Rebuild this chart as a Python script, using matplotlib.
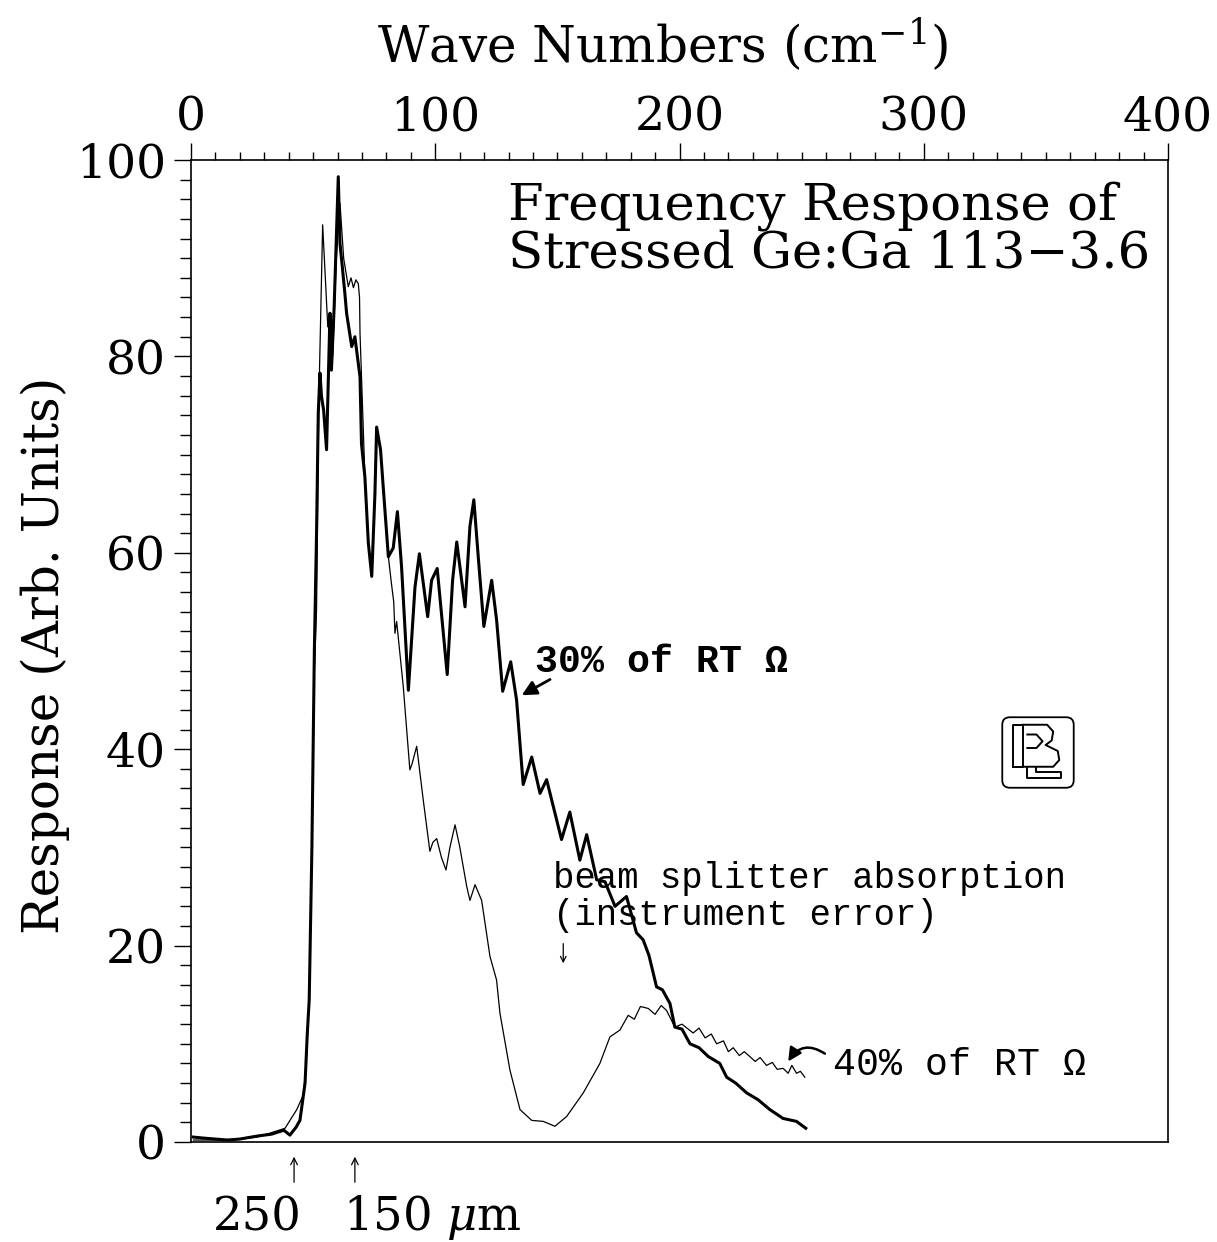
import numpy as np
import matplotlib
matplotlib.use('Agg')
import matplotlib.pyplot as plt
from matplotlib.patches import FancyBboxPatch

plt.rcParams['font.family'] = ['DejaVu Serif']
plt.rcParams['mathtext.fontset'] = 'dejavuserif'
MONO = ['Liberation Mono', 'DejaVu Sans Mono']

# 30% of RT resistance (thick curve)
wn_30 = [1, 5, 10, 15, 20, 27, 33, 38, 40.5, 43, 44.6, 46.7, 47.6, 48.4, 49.5, 50.5,
         51.4, 52.1, 52.8, 53.4, 54.3, 55.5, 56.9, 57.5, 58.6, 60.3, 61.0, 62.0, 63.0,
         63.7, 65.8, 67.1, 69.2, 69.8, 71.2, 72.6, 74.0, 75.3, 76.0, 77.6, 78.7, 80.8,
         82.8, 84.5, 86.2, 89.0, 91.7, 93.5, 96.9, 98.5, 100.8, 104.9, 107.1, 108.8,
         112.2, 114.2, 115.8, 117.6, 119.9, 123.1, 125.1, 127.6, 130.9, 133.3, 136.0,
         139.5, 142.9, 145.6, 151.7, 155.1, 159.2, 162.0, 166.1, 169.5, 173.6, 178.3,
         182.4, 185.1, 187.5, 190.6, 193.0, 196.1, 198.1, 201.0, 204.3, 208.0, 211.8,
         216.5, 219.3, 223.0, 227.5, 232.2, 237.0, 242.4, 247.9, 251.7]
resp_30 = [0.5, 0.4, 0.3, 0.2, 0.3, 0.6, 0.8, 1.2, 0.7, 1.5, 2.2, 6.0, 11.0, 14.5, 30, 50,
           62, 74.2, 78.3, 76.0, 74.5, 70.5, 84.4, 78.6, 85.0, 98.3, 91.5, 89.0, 86.4,
           84.4, 81.0, 82.0, 77.9, 71.1, 67.7, 61.0, 57.6, 66.0, 72.8, 70.5, 66.7, 59.6,
           60.5, 64.2, 58.6, 46.0, 56.5, 59.9, 53.5, 57.2, 58.4, 47.6, 57.2, 61.1,
           54.5, 62.7, 65.4, 59.6, 52.5, 57.2, 53.2, 45.9, 48.9, 45.0, 36.4,
           39.2, 35.5, 36.9, 30.8, 33.6, 28.7, 31.3, 26.7, 26.5, 24.0, 25.0,
           21.3, 20.6, 19.0, 15.8, 15.5, 14.1, 11.7, 11.5, 10.0, 9.6, 8.7,
           8.0, 6.6, 6.0, 5.0, 4.3, 3.3, 2.4, 2.1, 1.4]

# 40% of RT resistance (thin curve)
wn_40 = [1, 10, 20, 27, 32.3, 38.5, 43.3, 46.0, 47.1, 48.4, 49.5, 50.5, 51.4, 52.3,
         53.9, 55.0, 56.0, 56.9, 58.0, 59.5, 61.0, 62.5, 64.4, 65.5, 66.5, 67.5, 68.5,
         69.0, 69.2, 69.8, 71.2, 72.6, 74.0, 75.3, 76.0, 77.6, 78.7, 80.8, 82.0, 83.0,
         83.5, 84.2, 86.9, 89.6, 90.5, 92.4, 95.1, 97.8, 99.0, 100.6, 102.5, 104.4,
         106.0, 108.1, 110.0, 112.9, 114.2, 116.3, 119.0, 122.4, 125.1, 126.5, 130.6,
         134.7, 139.5, 144.2, 149.0, 153.8, 160.6, 167.4, 171.5, 175.6, 179.0, 181.5,
         184.0, 187.2, 190.0, 192.5, 194.7, 198.1, 201.0, 205.6, 208.0, 210.5, 213.0,
         215.2, 218.0, 220.0, 222.0, 224.5, 226.5, 228.8, 231.0, 233.0, 235.6, 238.0,
         240.0, 242.4, 244.5, 246.0, 247.9, 249.5, 251.3]
resp_40 = [0.2, 0.2, 0.3, 0.5, 0.9, 1.4, 3.3, 4.8, 7.7, 14.5, 30, 48, 54.2, 75,
           93.4, 88, 83, 83.4, 80, 90, 95.6, 90, 87.1, 88, 87, 87.8, 87.4,
           86, 82.3, 78, 67.7, 61, 57.6, 66, 72.8, 70.5, 66.7, 59.6, 57, 55,
           51.8, 53, 46.4, 37.9, 38.5, 40.3, 34.8, 29.6, 30.5, 30.9, 29, 27.7,
           30, 32.3, 30.1, 26, 24.6, 26.2, 24.6, 18.9, 16.5, 13.1, 7.3,
           3.3, 2.2, 2.1, 1.6, 2.6, 5.0, 8.0, 10.7, 11.4, 12.9, 12.5,
           13.8, 13.6, 13.0, 13.9, 13.4, 11.7, 12.0, 11.1, 11.6, 10.6, 11.0,
           10.0, 10.3, 9.2, 9.6, 8.8, 9.2, 8.7, 8.2, 8.6, 7.8, 8.1,
           7.4, 7.5, 7.0, 7.8, 7.0, 7.2, 6.6]

x_ticks = [0, 100, 200, 300, 400]
y_ticks = [0, 20, 40, 60, 80, 100]
marker_wn = [42.2, 67.1]   # 250 and 150 micron markers

W, H = 1217, 1242
fig = plt.figure(figsize=(W / 100, H / 100), dpi=100)
ax = fig.add_axes([191 / W, 1 - 1142 / H, 977 / W, 982 / H])

ax.plot(wn_40, resp_40, color='black', lw=0.9)
ax.plot(wn_30, resp_30, color='black', lw=2.2)

ax.set_xlim(0, 400)
ax.set_ylim(0, 100)

# ticks: top axis and left axis, pointing outward
ax.xaxis.set_ticks_position('top')
ax.set_xticks(x_ticks)
ax.set_xticks(np.arange(0, 401, 10), minor=True)
ax.set_yticks(y_ticks)
ax.set_yticks(np.arange(0, 101, 2), minor=True)
ax.tick_params(axis='x', which='major', direction='out', length=12, width=1.0,
               labelsize=34, pad=2)
ax.tick_params(axis='x', which='minor', direction='out', length=6, width=1.0)
ax.tick_params(axis='y', which='major', direction='out', length=12, width=1.0,
               labelsize=34, pad=6)
ax.tick_params(axis='y', which='minor', direction='out', length=8, width=1.0)
for s in ax.spines.values():
    s.set_linewidth(1.2)

fig.text(663 / W, 1 - 45 / H, 'Wave Numbers (cm$^{-1}$)', fontsize=36,
         ha='center', va='center')
fig.text(45 / W, 1 - 655 / H, 'Response (Arb. Units)', fontsize=36,
         ha='center', va='center', rotation=90)

ax.text(129.8, 93.9, 'Frequency Response of', fontsize=37, va='baseline')
ax.text(129.8, 89.1, 'Stressed Ge:Ga 113\u22123.6', fontsize=37, va='baseline')

# annotations
ax.text(140.8, 47.9, '30% of RT \u03a9', fontsize=27.5, fontweight='bold',
        family=MONO, va='baseline')
ax.annotate('', xy=(135.4, 45.5), xytext=(147, 47.1),
            arrowprops=dict(arrowstyle='-|>', lw=2, color='black',
                            mutation_scale=22, shrinkA=0, shrinkB=0))

ax.text(148.2, 25.9, 'beam splitter absorption', fontsize=25.7, family=MONO,
        va='baseline')
ax.text(148.2, 22.1, '(instrument error)', fontsize=25.7, family=MONO, va='baseline')
ax.annotate('', xy=(152.4, 18.2), xytext=(152.4, 20.2),
            arrowprops=dict(arrowstyle='->', lw=0.9, color='black',
                            mutation_scale=10, shrinkA=0, shrinkB=0))

ax.text(262.8, 6.8, '40% of RT \u03a9', fontsize=27.5, family=MONO, va='baseline')
ax.annotate('', xy=(244.5, 8.2), xytext=(259.5, 9.0),
            arrowprops=dict(arrowstyle='-|>', lw=1.8, color='black',
                            mutation_scale=20, shrinkA=0, shrinkB=0,
                            connectionstyle='arc3,rad=0.5'))

# wavelength markers below the axis
for xm in marker_wn:
    ax.annotate('', xy=(xm, -1.5), xytext=(xm, -4.1), annotation_clip=False,
                arrowprops=dict(arrowstyle='->', lw=0.9, color='black',
                                mutation_scale=12, shrinkA=0, shrinkB=0))
ax.text(9.0, -9.0, '250', fontsize=33.5, va='baseline', clip_on=False)
ax.text(62.2, -9.0, '150 $\\mu$m', fontsize=33.5, va='baseline', clip_on=False)

# LBL logo
lax = fig.add_axes([1000 / W, 1 - 790 / H, 76 / W, 75 / H])
lax.set_xlim(0, 1)
lax.set_ylim(0, 1)
lax.axis('off')
lax.add_patch(FancyBboxPatch((0.03, 0.03), 0.94, 0.94,
                             boxstyle='round,pad=0,rounding_size=0.1',
                             fill=False, lw=1.3, ec='black'))
lax.plot([0.17, 0.30, 0.30, 0.17, 0.17], [0.31, 0.31, 0.87, 0.87, 0.31],
         color='black', lw=1.4)
lax.plot([0.30, 0.62, 0.70, 0.68, 0.60, 0.76, 0.78, 0.70, 0.30],
         [0.87, 0.87, 0.78, 0.66, 0.60, 0.52, 0.40, 0.31, 0.31], color='black', lw=1.4)
lax.plot([0.36, 0.48, 0.56, 0.48, 0.36], [0.74, 0.74, 0.65, 0.56, 0.56],
         color='black', lw=1.4)
lax.plot([0.36, 0.36, 0.80, 0.80, 0.47, 0.47], [0.31, 0.16, 0.16, 0.24, 0.24, 0.31],
         color='black', lw=1.4)

fig.savefig('out.png', dpi=100)
